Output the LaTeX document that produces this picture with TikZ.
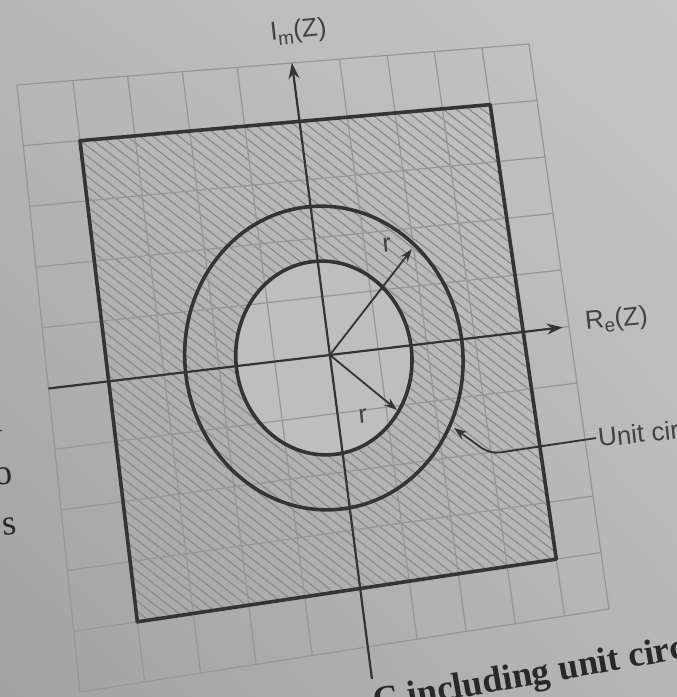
\documentclass[tikz,border=0pt]{standalone}
\usepackage{fontspec}
\setmainfont{Liberation Serif}
\setsansfont{Liberation Sans}
\usetikzlibrary{arrows.meta,patterns.meta,calc,shadings}
\definecolor{ink}{RGB}{52,52,52}
\definecolor{gridc}{RGB}{150,150,150}
\definecolor{hatchc}{RGB}{138,138,138}
\definecolor{labc}{RGB}{66,66,66}
\definecolor{capc}{RGB}{40,40,40}
\definecolor{bgUL}{RGB}{184,184,184}
\definecolor{bgUR}{RGB}{198,198,198}
\definecolor{bgLL}{RGB}{162,162,162}
\definecolor{bgLR}{RGB}{182,182,182}
\definecolor{diskc}{RGB}{190,190,190}
\newcommand{\lowsub}[1]{\raisebox{-5pt}{\fontsize{19}{19}\selectfont #1}}
\begin{document}
\begin{tikzpicture}[x=1pt,y=-1pt,
  gridline/.style={draw=gridc,line width=1.2pt},
  outline/.style={draw=ink,line width=3.6pt,line join=round},
  axisline/.style={draw=ink,line width=2.2pt,-{Stealth[length=16pt,width=11pt]}},
  rarrow/.style={draw=ink,line width=1.8pt,-{Stealth[length=13pt,width=9pt]}},
  lab/.style={font=\sffamily\fontsize{26}{26}\selectfont,text=labc,inner sep=0pt,rotate=6},
  frag/.style={font=\rmfamily\fontsize{36}{36}\selectfont,text=capc,inner sep=0pt,rotate=6},
  captxt/.style={font=\rmfamily\bfseries\fontsize{36}{36}\selectfont,text=capc,inner sep=0pt,rotate=10},
]
\useasboundingbox (0,0) rectangle (677,697);
\shade[upper left=bgUL,upper right=bgUR,lower left=bgLL,lower right=bgLR] (0,0) rectangle (677,697);

% grid frame (perspective quadrilateral)
\coordinate (gTL) at (17,85);
\coordinate (gTR) at (529,44);
\coordinate (gBR) at (609,609);
\coordinate (gBL) at (80,692);
\foreach \ft/\fb [count=\i from 0] in {0/0,.109/.122,.216/.228,.323/.333,.430/.439,.537/.544,.630/.637,.723/.730,.815/.823,.908/.916,1/1}{
  \coordinate (T\i) at ($(gTL)!\ft!(gTR)$);
  \coordinate (B\i) at ($(gBL)!\fb!(gBR)$);
}
\foreach \j in {0,...,10}{
  \pgfmathsetmacro\fr{\j/10}
  \coordinate (L\j) at ($(gTL)!\fr!(gBL)$);
  \coordinate (R\j) at ($(gTR)!\fr!(gBR)$);
}
\coordinate (sTL) at (intersection of T1--B1 and L1--R1);
\coordinate (sTR) at (intersection of T9--B9 and L1--R1);
\coordinate (sBR) at (intersection of T9--B9 and L9--R9);
\coordinate (sBL) at (intersection of T1--B1 and L9--R9);
\coordinate (O) at (intersection of T5--B5 and L5--R5);
\coordinate (Oc) at ($(O)+(-6,3)$);

% hatched region and clear inner disk
\fill[pattern={Lines[angle=-38,distance=8pt,line width=1.2pt]},pattern color=hatchc] (sTL)--(sTR)--(sBR)--(sBL)--cycle;
\fill[diskc,rotate around={7:(Oc)}] (Oc) ellipse [x radius=88, y radius=97];

% grid
\foreach \i in {0,...,10} \draw[gridline] (T\i) -- (B\i);
\foreach \j in {0,...,10} \draw[gridline] (L\j) -- (R\j);

% outlines
\draw[outline] (sTL)--(sTR)--(sBR)--(sBL)--cycle;
\draw[outline,rotate around={7:(Oc)}] (Oc) ellipse [x radius=139, y radius=152];
\draw[outline,rotate around={7:(Oc)}] (Oc) ellipse [x radius=88, y radius=97];

% axes
\coordinate (vBot) at ($(T5)!1.055!(B5)$);
\coordinate (hTip) at ($(L5)!0.988!(R5)$);
\draw[axisline] (vBot) -- (T5);
\draw[axisline] (L5) -- (hTip);

% labels
\node[lab,anchor=base west] (im) at (271,41) {I\lowsub{m}(Z)};
\node[lab,anchor=base west] (re) at (586,330) {R\lowsub{e}(Z)};
\node[lab,anchor=base west] (uc) at (599,447) {Unit circle};
\node[lab] (r1) at (387,245) {r};
\node[lab] (r2) at (363,416) {r};

% radius arrows
\coordinate (r1tip) at (412,249);
\coordinate (r2tip) at (397,410);
\draw[rarrow] (O) -- (r1tip);
\draw[rarrow] (O) -- (r2tip);

% unit circle pointer
\coordinate (ucTip) at (454,428);
\coordinate (ucBend) at (490,454);
\draw[rarrow,rounded corners=10pt,shorten <=2pt] (uc.west) -- (ucBend) -- (ucTip);

% page text fragments
\node[captxt,anchor=base west] (cap) at (375,713) {C including unit circle};
\node[frag,anchor=base east] (f1) at (4,431) {l};
\node[frag,anchor=base east] (f2) at (14,484) {o};
\node[frag,anchor=base east] (f3) at (18,534) {s};
\end{tikzpicture}
\end{document}
